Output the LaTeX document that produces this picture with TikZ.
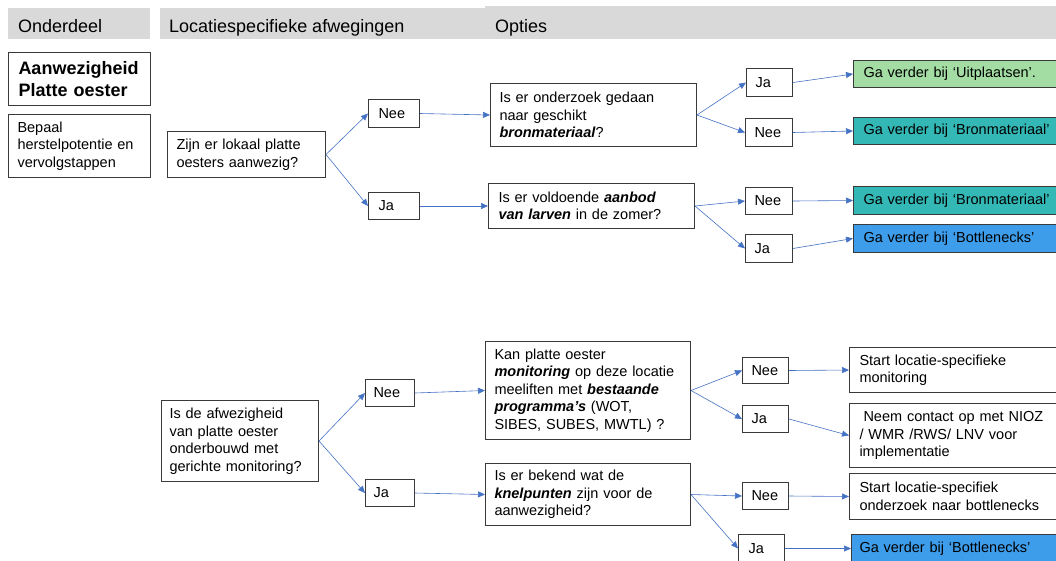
\documentclass[tikz,border=0pt]{standalone}
\usepackage{fontspec}
\setmainfont{Liberation Sans}
\usetikzlibrary{arrows.meta}
\definecolor{hdr}{HTML}{D9D9D9}
\definecolor{arr}{HTML}{4472C4}
\definecolor{grn}{HTML}{A3DDA3}
\definecolor{tl}{HTML}{33B8B5}
\definecolor{blu}{HTML}{3D9DEB}
\definecolor{bd}{HTML}{3A3A3A}
\newcommand{\bi}[1]{\textbf{\textit{#1}}}
\begin{document}
\begin{tikzpicture}[x=1pt,y=-1pt,
  hdrbar/.style={fill=hdr, inner sep=0pt, anchor=north west},
  hdrtxt/.style={font=\fontsize{18}{22}\selectfont, inner sep=0pt, anchor=base west},
  box/.style={draw=bd, line width=1pt, anchor=north west, inner ysep=0pt,
    align=left, font=\fontsize{14.5}{17.5}\selectfont},
  conn/.style={draw=arr, line width=0.6pt, -{Triangle[length=7pt,width=6pt]}}
]
\useasboundingbox (0,0) rectangle (1056,560);
% header bars
\node[hdrbar, minimum width=142.5pt, minimum height=31pt] (h1) at (7.5,7.5) {};
\node[hdrbar, minimum width=325pt, minimum height=31pt] (h2) at (160,7.5) {};
\node[hdrbar, minimum width=571pt, minimum height=32.5pt] (h3) at (485,6) {};
\node[hdrtxt] (t1) at (18,32.5) {Onderdeel};
\node[hdrtxt] (t2) at (169,32.5) {Locatiespecifieke afwegingen};
\node[hdrtxt] (t3) at (495,32.5) {Opties};

% left column
\node[box, minimum width=142pt, minimum height=53pt, inner xsep=10pt, text width=122pt,
  font=\fontsize{18}{22}\selectfont\bfseries] (A) at (8,52) {Aanwezigheid\\Platte oester};
\node[box, minimum width=142pt, minimum height=63pt, inner xsep=9pt, text width=124pt] (B) at (8,114)
  {Bepaal\\herstelpotentie en\\vervolgstappen};

% upper tree
\node[box, minimum width=158pt, minimum height=46pt, inner xsep=9pt, text width=140pt] (C) at (167,131)
  {Zijn er lokaal platte\\oesters aanwezig?};
\node[box, minimum width=51pt, minimum height=28pt, inner xsep=10pt, text width=31pt] (N1) at (368,99) {Nee};
\node[box, minimum width=51pt, minimum height=27pt, inner xsep=10pt, text width=31pt] (J1) at (368,192) {Ja};
\node[box, minimum width=206pt, minimum height=63pt, inner xsep=9pt, text width=188pt] (D) at (490,83)
  {Is er onderzoek gedaan\\naar geschikt\\\bi{bronmateriaal}?};
\node[box, minimum width=206pt, minimum height=45pt, inner xsep=10pt, text width=186pt] (E) at (488,183)
  {Is er voldoende \bi{aanbod}\\\bi{van larven} in de zomer?};
\node[box, minimum width=46pt, minimum height=28pt, inner xsep=9pt, text width=28pt] (J2) at (746,68) {Ja};
\node[box, minimum width=47pt, minimum height=28pt, inner xsep=9pt, text width=29pt] (N2) at (745,118) {Nee};
\node[box, minimum width=47pt, minimum height=27pt, inner xsep=9pt, text width=29pt] (N3) at (745,187) {Nee};
\node[box, minimum width=47pt, minimum height=28pt, inner xsep=9pt, text width=29pt] (J3) at (745,234) {Ja};
\node[box, fill=grn, minimum width=210pt, minimum height=27pt, inner xsep=10pt, text width=190pt] (G1) at (853,60)
  {Ga verder bij ‘Uitplaatsen’.};
\node[box, fill=tl, minimum width=210pt, minimum height=27pt, inner xsep=10pt, text width=190pt] (T1) at (853,117)
  {Ga verder bij ‘Bronmateriaal’};
\node[box, fill=tl, minimum width=210pt, minimum height=28pt, inner xsep=10pt, text width=190pt] (T2) at (853,186)
  {Ga verder bij ‘Bronmateriaal’};
\node[box, fill=blu, minimum width=210pt, minimum height=28pt, inner xsep=10pt, text width=190pt] (B1) at (853,224)
  {Ga verder bij ‘Bottlenecks’};

% lower tree
\node[box, minimum width=157pt, minimum height=81pt, inner xsep=8pt, text width=141pt] (F) at (161,400)
  {Is de afwezigheid\\van platte oester\\onderbouwd met\\gerichte monitoring?};
\node[box, minimum width=49pt, minimum height=27pt, inner xsep=8pt, text width=33pt] (N4) at (365,379) {Nee};
\node[box, minimum width=49pt, minimum height=27pt, inner xsep=8pt, text width=33pt] (J4) at (365,479) {Ja};
\node[box, minimum width=205pt, minimum height=98pt, inner xsep=9pt, text width=187pt] (K) at (485,341)
  {Kan platte oester\\\bi{monitoring} op deze locatie\\meeliften met \bi{bestaande}\\\bi{programma’s} (WOT,\\SIBES, SUBES, MWTL) ?};
\node[box, minimum width=205pt, minimum height=62pt, inner xsep=9pt, text width=187pt] (L) at (485,463)
  {Is er bekend wat de\\\bi{knelpunten} zijn voor de\\aanwezigheid?};
\node[box, minimum width=46pt, minimum height=26pt, inner xsep=9pt, text width=28pt] (N5) at (742,357) {Nee};
\node[box, minimum width=46pt, minimum height=27pt, inner xsep=9pt, text width=28pt] (J5) at (742,405) {Ja};
\node[box, minimum width=46pt, minimum height=27pt, inner xsep=9pt, text width=28pt] (N6) at (742,482) {Nee};
\node[box, minimum width=46pt, minimum height=28pt, inner xsep=10pt, text width=26pt] (J6) at (738,534) {Ja};
\node[box, minimum width=211pt, minimum height=45pt, inner xsep=10pt, text width=191pt] (M1) at (849,347)
  {Start locatie-specifieke\\monitoring};
\node[box, minimum width=211pt, minimum height=64pt, inner xsep=10pt, text width=191pt] (M2) at (849,403)
  {\hspace*{4pt}Neem contact op met NIOZ\\/ WMR /RWS/ LNV voor\\implementatie};
\node[box, minimum width=211pt, minimum height=46pt, inner xsep=10pt, text width=191pt] (M3) at (849,473)
  {Start locatie-specifiek\\onderzoek naar bottlenecks};
\node[box, fill=blu, minimum width=209pt, minimum height=28pt, inner xsep=8pt, text width=193pt] (B2) at (851,534)
  {Ga verder bij ‘Bottlenecks’};

% connectors upper
\draw[conn] (C.east) -- (N1.west);
\draw[conn] (C.east) -- (J1.west);
\draw[conn] (N1.east) -- (D.west);
\draw[conn] (J1.east) -- (E.west);
\draw[conn] (D.east) -- (J2.west);
\draw[conn] (D.east) -- (N2.west);
\draw[conn] (E.east) -- (N3.west);
\draw[conn] (E.east) -- (J3.west);
\draw[conn] (J2.east) -- (G1.west);
\draw[conn] (N2.east) -- (T1.west);
\draw[conn] (N3.east) -- (T2.west);
\draw[conn] (J3.east) -- (B1.west);
% connectors lower
\draw[conn] (F.east) -- (N4.west);
\draw[conn] (F.east) -- (J4.west);
\draw[conn] (N4.east) -- (K.west);
\draw[conn] (J4.east) -- (L.west);
\draw[conn] (K.east) -- (N5.west);
\draw[conn] (K.east) -- (J5.west);
\draw[conn] (L.east) -- (N6.west);
\draw[conn] (L.east) -- (J6.west);
\draw[conn] (N5.east) -- (M1.west);
\draw[conn] (J5.east) -- (M2.west);
\draw[conn] (N6.east) -- (M3.west);
\draw[conn] (J6.east) -- (B2.west);
\end{tikzpicture}
\end{document}
